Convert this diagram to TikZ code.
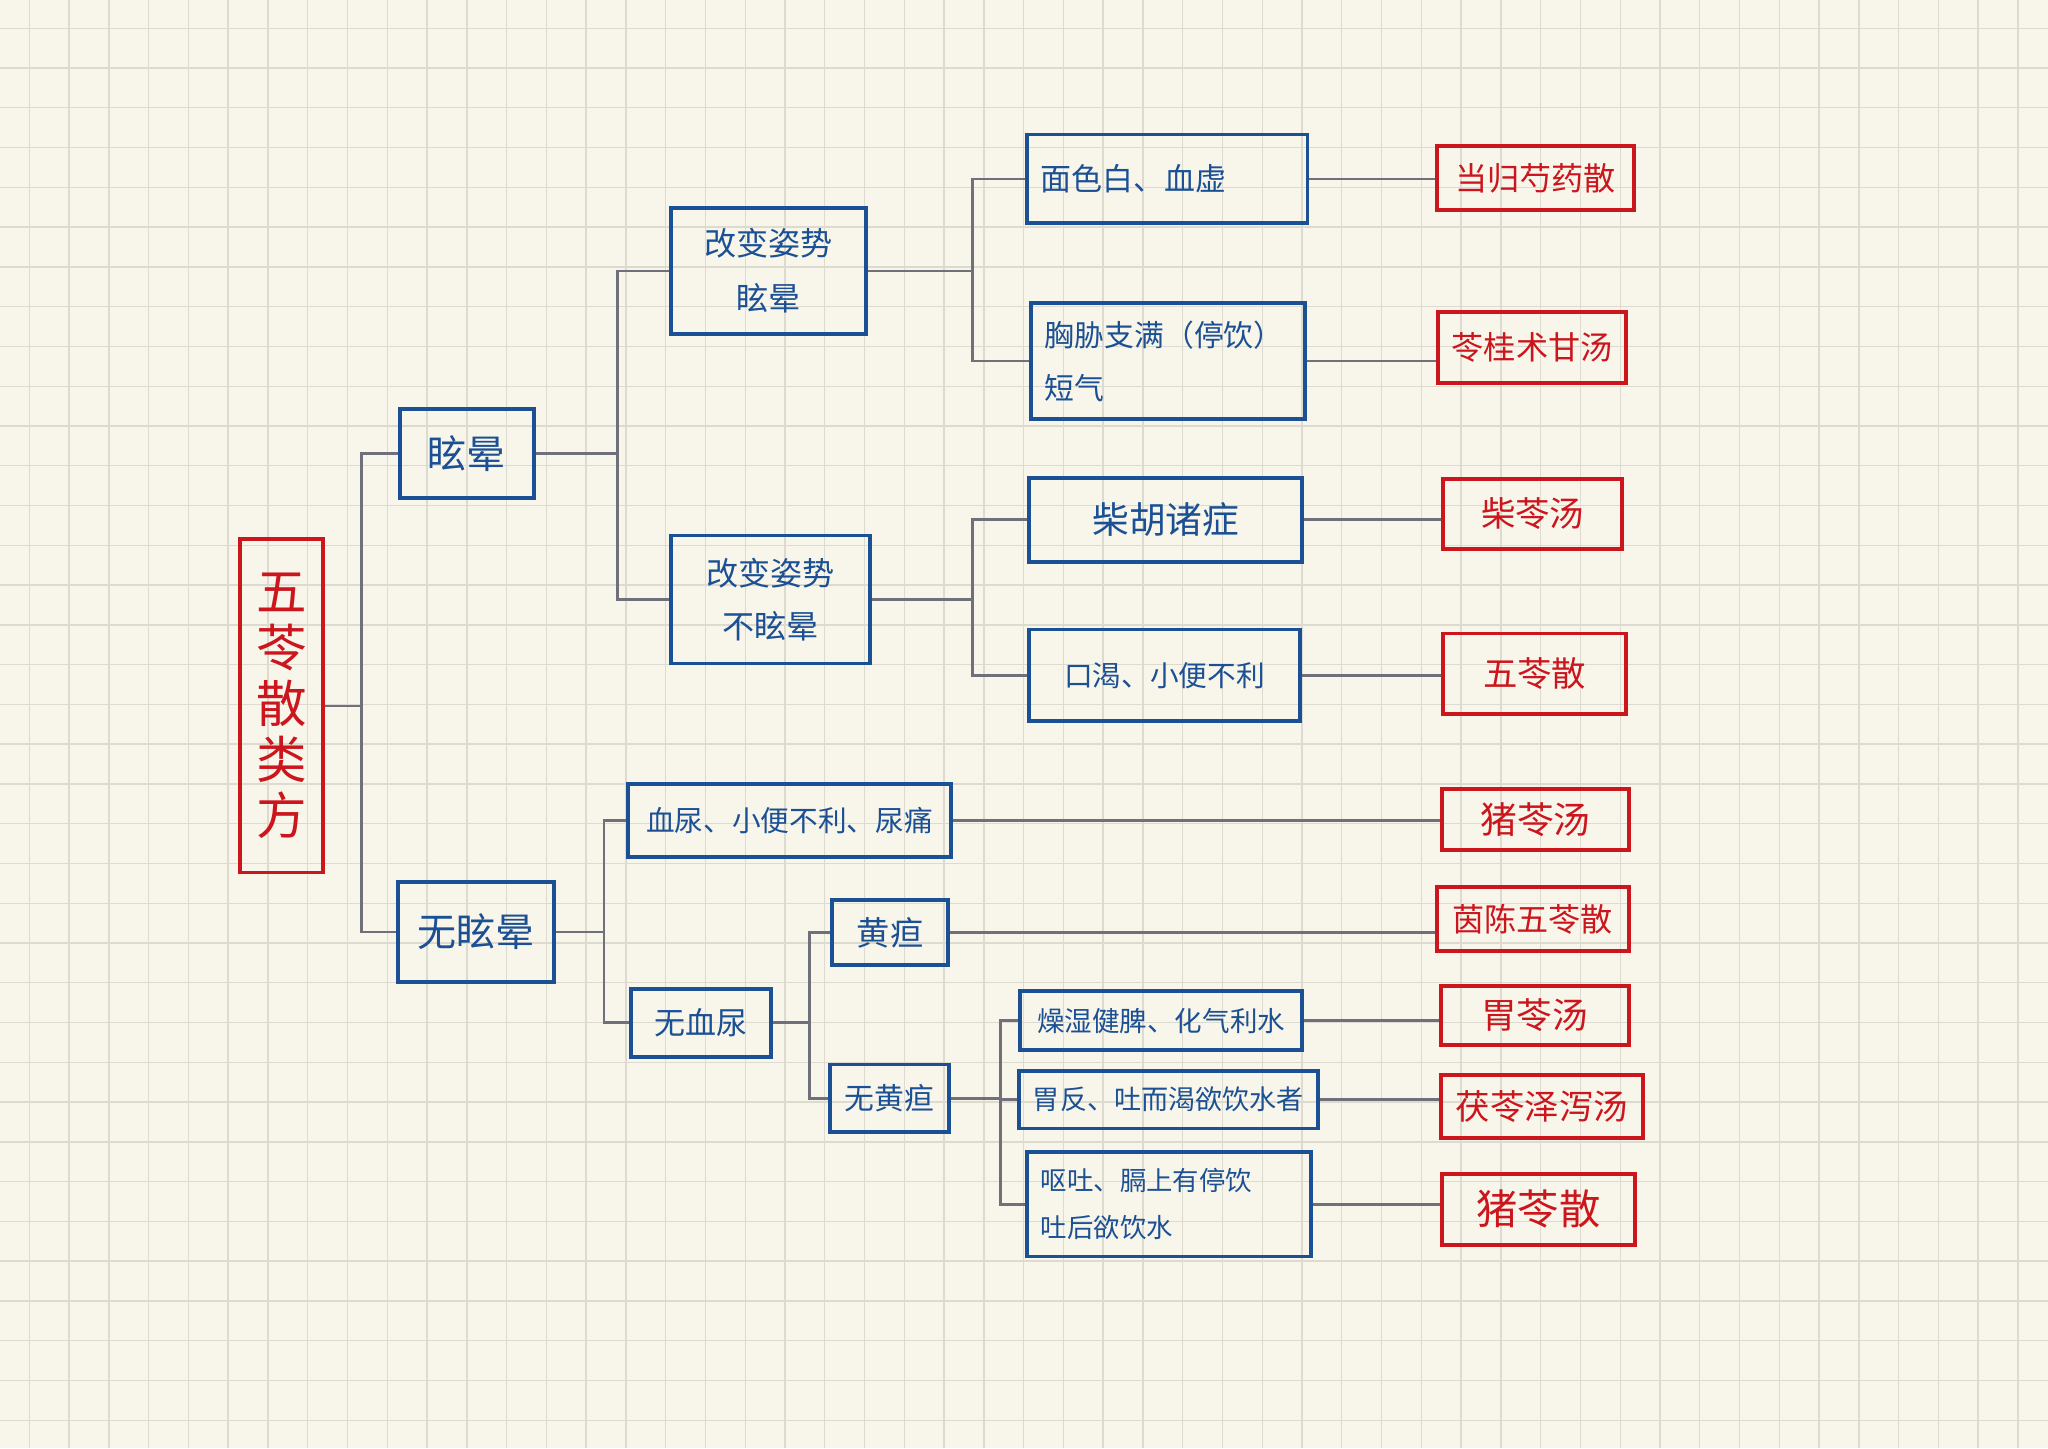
\documentclass[tikz,border=0pt]{standalone}
\usepackage{fontspec}
\usepackage{xcolor}
\usepackage{tikz}
\usetikzlibrary{positioning}
\newfontfamily\cjk{Noto Sans CJK SC}
\definecolor{PaperCream}{RGB}{248,246,234}
\definecolor{GridGrey}{RGB}{221,219,208}
\definecolor{InkBlue}{RGB}{28,80,148}
\definecolor{InkRed}{RGB}{204,22,30}
\definecolor{LinkGrey}{RGB}{112,112,122}

\begin{document}
\begin{tikzpicture}[
    bluebox/.style={rectangle,draw=InkBlue,line width=1.7pt,text=InkBlue,inner xsep=0.22cm,inner ysep=0pt},
    redbox/.style={rectangle,draw=InkRed,line width=1.7pt,text=InkRed,inner xsep=0.1cm,inner ysep=0pt},
    link/.style={draw=LinkGrey,line width=1.2pt},
    gridline/.style={draw=GridGrey,line width=0.6pt}]
    \fill[PaperCream] (0,0) rectangle (31.36,22.18);
    \useasboundingbox (0,0) rectangle (31.36,22.18);
    \foreach \i in {0,...,50} \draw[gridline] (0.449+0.609*\i,0) -- (0.449+0.609*\i,22.18);
    \foreach \j in {0,...,35} \draw[gridline] (0,21.747-0.609*\j) -- (31.36,21.747-0.609*\j);

    \node[redbox,minimum width=1.26cm,minimum height=5.10cm,align=center,font={\cjk\fontsize{22}{24.4}\selectfont}] (root) at (4.31,11.37) {五\\苓\\散\\类\\方};

    \node[bluebox,minimum width=2.06cm,minimum height=1.36cm,font={\cjk\fontsize{17}{20}\selectfont}] (xy) at (7.15,15.24) {眩晕};
    \node[bluebox,minimum width=2.38cm,minimum height=1.54cm,font={\cjk\fontsize{17}{20}\selectfont}] (wxy) at (7.29,7.91) {无眩晕};

    \node[bluebox,minimum width=2.98cm,minimum height=1.94cm,align=center,font={\cjk\fontsize{14}{24}\selectfont}] (gbxy) at (11.77,18.03) {改变姿势\\眩晕};
    \node[bluebox,minimum width=3.04cm,minimum height=1.96cm,align=center,font={\cjk\fontsize{14}{23}\selectfont}] (gbbxy) at (11.80,13.00) {改变姿势\\不眩晕};

    \node[bluebox,minimum width=4.30cm,minimum height=1.36cm,text width=3.86cm,align=left,font={\cjk\fontsize{13.5}{18}\selectfont}] (mse) at (17.87,19.44) {面色白、血虚};
    \node[bluebox,minimum width=4.20cm,minimum height=1.78cm,text width=3.76cm,align=left,font={\cjk\fontsize{13}{23}\selectfont}] (xxzm) at (17.88,16.65) {胸胁支满（停饮）\\短气};
    \node[bluebox,minimum width=4.18cm,minimum height=1.28cm,font={\cjk\fontsize{16}{20}\selectfont}] (chzz) at (17.85,14.22) {柴胡诸症};
    \node[bluebox,minimum width=4.14cm,minimum height=1.40cm,font={\cjk\fontsize{12.5}{16}\selectfont}] (kk) at (17.83,11.84) {口渴、小便不利};

    \node[bluebox,minimum width=4.94cm,minimum height=1.12cm,font={\cjk\fontsize{12.5}{16}\selectfont}] (xn) at (12.09,9.62) {血尿、小便不利、尿痛};
    \node[bluebox,minimum width=2.14cm,minimum height=1.04cm,font={\cjk\fontsize{13.5}{16}\selectfont}] (wxn) at (10.73,6.52) {无血尿};
    \node[bluebox,minimum width=1.78cm,minimum height=1.00cm,font={\cjk\fontsize{14.5}{16}\selectfont}] (hd) at (13.63,7.90) {黄疸};
    \node[bluebox,minimum width=1.76cm,minimum height=1.04cm,font={\cjk\fontsize{13}{16}\selectfont}] (whd) at (13.62,5.36) {无黄疸};

    \node[bluebox,minimum width=4.32cm,minimum height=0.90cm,font={\cjk\fontsize{12}{16}\selectfont}] (zs) at (17.78,6.55) {燥湿健脾、化气利水};
    \node[bluebox,minimum width=4.46cm,minimum height=0.88cm,font={\cjk\fontsize{11.8}{16}\selectfont}] (wf) at (17.89,5.34) {胃反、吐而渴欲饮水者};
    \node[bluebox,minimum width=4.36cm,minimum height=1.60cm,text width=3.92cm,align=left,font={\cjk\fontsize{11.5}{20.4}\selectfont}] (ot) at (17.90,3.74) {呕吐、膈上有停饮\\吐后欲饮水};

    \node[redbox,minimum width=3.02cm,minimum height=0.98cm,font={\cjk\fontsize{14}{16}\selectfont}] (dgsy) at (23.51,19.45) {当归芍药散};
    \node[redbox,minimum width=2.88cm,minimum height=1.08cm,font={\cjk\fontsize{14}{16}\selectfont}] (lgzg) at (23.46,16.86) {苓桂术甘汤};
    \node[redbox,minimum width=2.74cm,minimum height=1.06cm,font={\cjk\fontsize{15}{16}\selectfont}] (clt) at (23.47,14.31) {柴苓汤};
    \node[redbox,minimum width=2.80cm,minimum height=1.24cm,font={\cjk\fontsize{15}{16}\selectfont}] (wls) at (23.50,11.86) {五苓散};
    \node[redbox,minimum width=2.86cm,minimum height=0.94cm,font={\cjk\fontsize{16}{16}\selectfont}] (zlt) at (23.51,9.63) {猪苓汤};
    \node[redbox,minimum width=2.94cm,minimum height=0.98cm,font={\cjk\fontsize{14}{16}\selectfont}] (ycwl) at (23.47,8.11) {茵陈五苓散};
    \node[redbox,minimum width=2.88cm,minimum height=0.90cm,font={\cjk\fontsize{15.5}{16}\selectfont}] (wlt) at (23.50,6.63) {胃苓汤};
    \node[redbox,minimum width=3.10cm,minimum height=0.96cm,font={\cjk\fontsize{15}{16}\selectfont}] (flzx) at (23.61,5.24) {茯苓泽泻汤};
    \node[redbox,minimum width=2.96cm,minimum height=1.08cm,font={\cjk\fontsize{18}{18}\selectfont}] (zls) at (23.56,3.66) {猪苓散};

    \draw[link] (root.east) -- ++(0.56,0) |- (xy.west);
    \draw[link] (root.east) -- ++(0.56,0) |- (wxy.west);
    \draw[link] (xy.east) -- ++(1.24,0) |- (gbxy.west);
    \draw[link] (xy.east) -- ++(1.24,0) |- (gbbxy.west);
    \draw[link] (gbxy.east) -- ++(1.60,0) |- (mse.west);
    \draw[link] (gbxy.east) -- ++(1.60,0) |- (xxzm.west);
    \draw[link] (gbbxy.east) -- ++(1.54,0) |- (chzz.west);
    \draw[link] (gbbxy.east) -- ++(1.54,0) |- (kk.west);
    \draw[link] (wxy.east) -- ++(0.74,0) |- (xn.west);
    \draw[link] (wxy.east) -- ++(0.74,0) |- (wxn.west);
    \draw[link] (wxn.east) -- ++(0.56,0) |- (hd.west);
    \draw[link] (wxn.east) -- ++(0.56,0) |- (whd.west);
    \draw[link] (whd.east) -- ++(0.76,0) |- (zs.west);
    \draw[link] (whd.east) -- ++(0.76,0) |- (wf.west);
    \draw[link] (whd.east) -- ++(0.76,0) |- (ot.west);

    \draw[link] (mse.east) -- (mse.east -| dgsy.west);
    \draw[link] (xxzm.east) -- (xxzm.east -| lgzg.west);
    \draw[link] (chzz.east) -- (chzz.east -| clt.west);
    \draw[link] (kk.east) -- (kk.east -| wls.west);
    \draw[link] (xn.east) -- (xn.east -| zlt.west);
    \draw[link] (hd.east) -- (hd.east -| ycwl.west);
    \draw[link] (zs.east) -- (zs.east -| wlt.west);
    \draw[link] (wf.east) -- (wf.east -| flzx.west);
    \draw[link] (ot.east) -- (ot.east -| zls.west);
\end{tikzpicture}
\end{document}
